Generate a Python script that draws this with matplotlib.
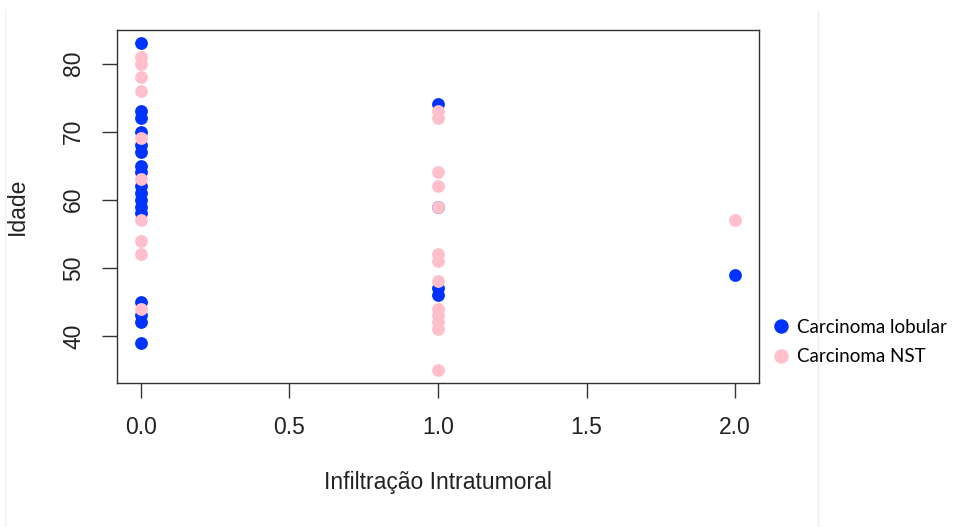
import matplotlib.pyplot as plt
from matplotlib.lines import Line2D

# Infiltracao (x) and Idade (y)
lobular_x = [0] * 17 + [1] * 4 + [2]
lobular_y = [83, 73, 72, 70, 68, 67, 65, 64, 62, 61, 60, 59, 58, 45, 43, 42, 39,
             74, 59, 47, 46,
             49]

nst_x = [0] * 10 + [1] * 13 + [2]
nst_y = [81, 80, 78, 76, 69, 63, 57, 54, 52, 44,
         73, 72, 64, 62, 59, 52, 51, 48, 44, 43, 42, 41, 35,
         57]

x_ticks = [0.0, 0.5, 1.0, 1.5, 2.0]
y_ticks = [40, 50, 60, 70, 80]

blue = "#0033ff"
pink = "#ffc0cb"

plt.rcParams['font.family'] = ['Liberation Sans', 'DejaVu Sans']

fig = plt.figure(figsize=(9.6, 5.27), dpi=100)
ax = fig.add_axes([117 / 960, 1 - 383 / 527, (759 - 117) / 960, (383 - 30) / 527])

ax.scatter(lobular_x, lobular_y, s=85, color=blue, linewidths=0, zorder=2)
ax.scatter(nst_x, nst_y, s=85, color=pink, linewidths=0, zorder=3)

ax.set_xlim(-0.08, 2.08)
ax.set_ylim(33.08, 84.92)
ax.set_xticks(x_ticks)
ax.set_xticklabels(["%.1f" % t for t in x_ticks])
ax.set_yticks(y_ticks)
ax.set_yticklabels([str(t) for t in y_ticks], rotation=90, va="center")

for s in ax.spines.values():
    s.set_color("#333333")
    s.set_linewidth(1.0)
ax.tick_params(length=11, width=1.0, color="#333333", labelsize=16.5,
               labelcolor="#222222")
ax.tick_params(axis="x", pad=13)
ax.tick_params(axis="y", pad=12)

ax.set_xlabel("Infiltração Intratumoral", fontsize=16.5, color="#222222", labelpad=23)
ax.set_ylabel("Idade", fontsize=16.5, color="#222222", labelpad=24)

handles = [
    Line2D([], [], marker="o", linestyle="", markersize=9.4, color=blue),
    Line2D([], [], marker="o", linestyle="", markersize=9.4, color=pink),
]
fig.legend(handles, ["Carcinoma lobular", "Carcinoma NST"],
           loc="center left", bbox_to_anchor=(753 / 960, 1 - 342 / 527),
           frameon=False, prop={"family": "Lato", "size": 13.5},
           handletextpad=0.25, handlelength=1.2, labelspacing=0.65)

# faint screenshot borders
fig.add_artist(Line2D([818 / 960, 818 / 960], [0, 1 - 10 / 527],
                      transform=fig.transFigure, color="#eeeeee", linewidth=1))
fig.add_artist(Line2D([5 / 960, 5 / 960], [0, 1 - 10 / 527],
                      transform=fig.transFigure, color="#f2f2f2", linewidth=1))

fig.savefig("out.png", dpi=100)
